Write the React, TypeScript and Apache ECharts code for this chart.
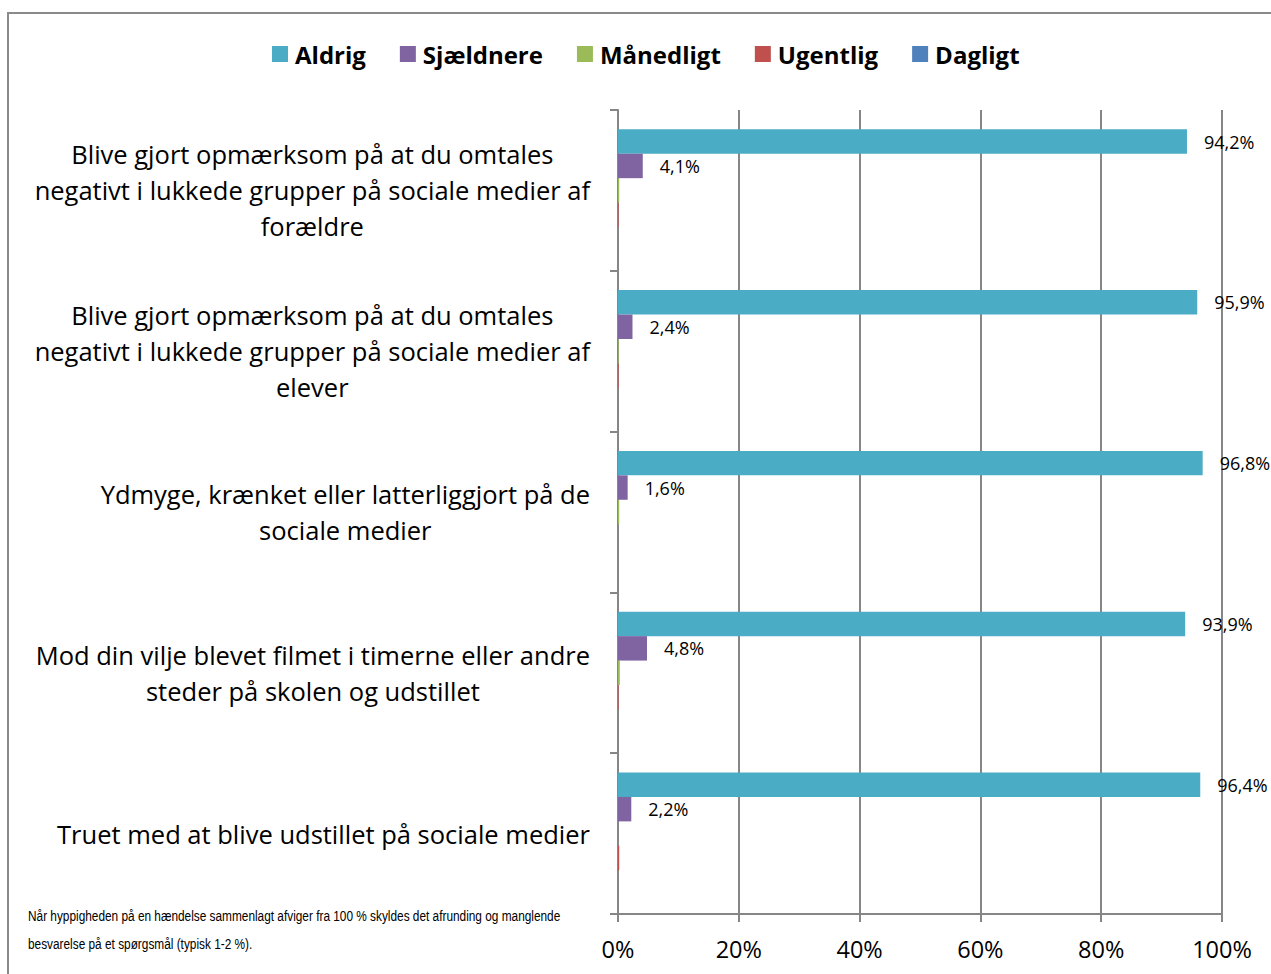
import React, { useEffect, useRef } from "react";
import * as echarts from "echarts";

const categories = [
  "Blive gjort opmærksom på at du omtales\nnegativt i lukkede grupper på sociale medier af\nforældre",
  "Blive gjort opmærksom på at du omtales\nnegativt i lukkede grupper på sociale medier af\nelever",
  "Ydmyge, krænket eller latterliggjort på de\nsociale medier",
  "Mod din vilje blevet filmet i timerne eller andre\nsteder på skolen og udstillet",
  "Truet med at blive udstillet på sociale medier",
];
const seriesNames = ["Aldrig", "Sjældnere", "Månedligt", "Ugentlig", "Dagligt"];
const aldrig = [94.2, 95.9, 96.8, 93.9, 96.4];
const sjaeldnere = [4.1, 2.4, 1.6, 4.8, 2.2];
const maanedligt = [0.2, 0.1, 0.2, 0.3, 0];
const ugentlig = [0.1, 0.1, 0, 0.1, 0.2];
const dagligt = [0, 0, 0, 0, 0];
const colors = ["#4BACC6", "#8064A2", "#9BBB59", "#C0504D", "#4F81BD"];
const footnote = [
  "Når hyppigheden på en hændelse sammenlagt afviger fra 100 % skyldes det afrunding og manglende",
  "besvarelse på et spørgsmål (typisk 1-2 %).",
];

const FONT = "'Open Sans', 'Noto Sans', sans-serif";

export default function App() {
  const ref = useRef<HTMLDivElement>(null);
  useEffect(() => {
    if (!ref.current) return;
    const chart = echarts.init(ref.current, undefined, { renderer: "svg" });
    const values = [aldrig, sjaeldnere, maanedligt, ugentlig, dagligt];
    const fmt = (v: number) => v.toFixed(1).replace(".", ",") + "%";
    chart.setOption({
      animation: false,
      backgroundColor: "#ffffff",
      textStyle: { fontFamily: FONT },
      legend: {
        top: 37,
        left: 267,
        itemWidth: 16,
        itemHeight: 16,
        itemGap: 34,
        icon: "rect",
        textStyle: { fontSize: 24, fontWeight: "bold", color: "#000", fontFamily: FONT, padding: [0, 0, 0, 2] },
        data: seriesNames,
      },
      grid: { left: 618, right: 49, top: 110, bottom: 60, containLabel: false },
      xAxis: {
        type: "value",
        min: 0,
        max: 100,
        interval: 20,
        axisLine: { show: true, lineStyle: { color: "#868686", width: 2 } },
        axisTick: { show: true, length: 8, lineStyle: { color: "#868686", width: 2 } },
        axisLabel: { formatter: (v: number) => v + "%", fontSize: 23.5, color: "#000", margin: 23, fontFamily: FONT },
        splitLine: { show: true, lineStyle: { color: "#868686", width: 2 } },
      },
      yAxis: {
        type: "category",
        inverse: true,
        data: categories,
        axisLine: { show: true, lineStyle: { color: "#868686", width: 2 } },
        axisTick: { show: true, length: 8, lineStyle: { color: "#868686", width: 2 } },
        axisLabel: {
          margin: 28,
          formatter: (v: string) => v.split("\n").map((l) => "{c|" + l + "}").join("\n"),
          rich: { c: { align: "center", fontSize: 25.5, lineHeight: 36, color: "#000", fontFamily: FONT } },
        },
      },
      series: seriesNames.map((name, i) => ({
        name,
        type: "bar",
        data: values[i],
        barGap: "0%",
        barCategoryGap: "24%",
        itemStyle: { color: colors[i] },
        label: {
          show: i < 2,
          position: "right",
          distance: 17,
          fontSize: 18,
          color: "#000",
          fontFamily: FONT,
          formatter: (p: any) => fmt(p.value),
        },
      })),
      graphic: [
        {
          type: "rect",
          shape: { x: 8, y: 13, width: 1400, height: 1100 },
          style: { fill: "none", stroke: "#8a8a8a", lineWidth: 2 },
          silent: true,
        },
        {
          type: "text",
          x: 28,
          y: 902,
          scaleX: 0.79,
          style: {
            text: footnote.join("\n"),
            fontSize: 15,
            lineHeight: 28,
            fill: "#000",
            fontFamily: "'Liberation Sans', sans-serif",
          },
        },
      ],
    });
    return () => chart.dispose();
  }, []);
  return <div ref={ref} style={{ position: "fixed", left: 0, top: 0, width: 1271, height: 974 }} />;
}
